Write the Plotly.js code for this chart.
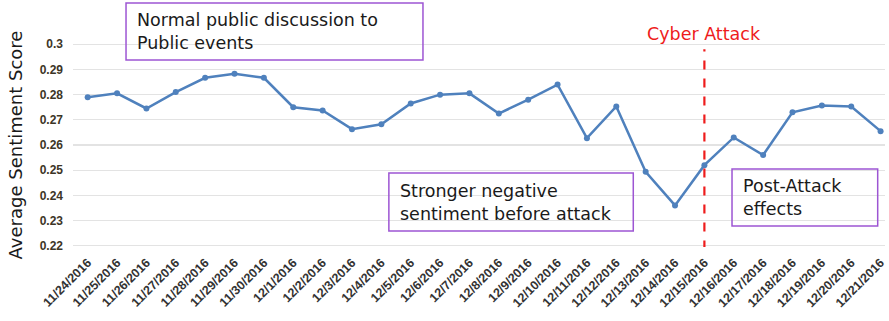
<!DOCTYPE html>
<html>
<head>
<meta charset="utf-8">
<script src="https://cdn.plot.ly/plotly-3.0.1.min.js"></script>
<style>html,body{margin:0;padding:0;background:#fff;}#chart{width:889px;height:321px;}</style>
</head>
<body>
<div id="chart"></div>
<script>
const dates = ['11/24/2016','11/25/2016','11/26/2016','11/27/2016','11/28/2016','11/29/2016','11/30/2016',
  '12/1/2016','12/2/2016','12/3/2016','12/4/2016','12/5/2016','12/6/2016','12/7/2016','12/8/2016',
  '12/9/2016','12/10/2016','12/11/2016','12/12/2016','12/13/2016','12/14/2016','12/15/2016','12/16/2016',
  '12/17/2016','12/18/2016','12/19/2016','12/20/2016','12/21/2016'];
const scores = [0.279,0.2805,0.2745,0.281,0.2867,0.2883,0.2867,
  0.275,0.2737,0.2663,0.2682,0.2765,0.280,0.2805,0.2725,
  0.278,0.284,0.2627,0.2753,0.2494,0.236,0.252,0.263,
  0.256,0.273,0.2757,0.2753,0.2655];
const yTicks = [0.22,0.23,0.24,0.25,0.26,0.27,0.28,0.29,0.3];
const yTickText = ['0.22','0.23','0.24','0.25','0.26','0.27','0.28','0.29','0.3'];
const attackDate = '12/15/2016';
const attackLabel = 'Cyber Attack';
const boxTexts = ['Normal public discussion to<br>Public events',
  'Stronger negative<br>sentiment before attack',
  'Post-Attack<br>effects'];

const purple = '#9d55d3';
const annFont = {family: 'DejaVu Sans', size: 17.5, color: '#1a1a1a'};
const attackIdx = dates.indexOf(attackDate);

const trace = {
  x: dates, y: scores, type: 'scatter', mode: 'lines+markers',
  line: {color: '#4f81bd', width: 2.5},
  marker: {color: '#4f81bd', size: 6},
  hoverinfo: 'skip'
};

const boxes = [
  {x0: 0.0653, x1: 0.431, y0: 0.917, y1: 1.196},
  {x0: 0.389, x1: 0.690, y0: 0.078, y1: 0.363},
  {x0: 0.8116, x1: 0.991, y0: 0.103, y1: 0.382}
];

const shapes = boxes.map(b => ({
  type: 'rect', xref: 'paper', yref: 'paper', x0: b.x0, x1: b.x1, y0: b.y0, y1: b.y1,
  line: {color: purple, width: 1.5}, fillcolor: 'rgba(255,255,255,0)', layer: 'above'
}));
shapes.push({
  type: 'line', xref: 'x', yref: 'y', x0: attackIdx, x1: attackIdx, y0: 0.2185, y1: 0.298,
  line: {color: '#ee1c1c', width: 2.2, dash: 'dash'}
});

const annotations = boxes.map((b, i) => ({
  xref: 'paper', yref: 'paper', x: b.x0 + 0.011, y: (b.y0 + b.y1) / 2,
  xanchor: 'left', yanchor: 'middle', align: 'left', showarrow: false,
  text: boxTexts[i], font: annFont
}));
annotations.push({
  xref: 'x', yref: 'paper', x: attackIdx, y: 1.045, xanchor: 'center', yanchor: 'middle',
  showarrow: false, text: attackLabel,
  font: {family: 'DejaVu Sans', size: 17.5, color: '#ee1c1c'}
});

const layout = {
  width: 889, height: 321,
  margin: {l: 73, r: 4, t: 43, b: 74, pad: 0},
  paper_bgcolor: '#fff', plot_bgcolor: '#fff',
  showlegend: false,
  xaxis: {
    type: 'category', range: [-0.5, 27.15],
    showgrid: false, zeroline: false, showline: false, ticks: '',
    tickangle: -45, ticklabelstandoff: 5,
    tickfont: {family: 'Liberation Sans', size: 12.5, color: '#333', weight: 'bold'}
  },
  yaxis: {
    range: [0.2195, 0.3005], tickvals: yTicks, ticktext: yTickText,
    showgrid: true, gridcolor: '#e3e3e3', gridwidth: 1.3,
    zeroline: false, showline: false, ticks: '',
    ticklabelstandoff: 9,
    tickfont: {family: 'Liberation Sans', size: 12, color: '#3d3526', weight: 'bold'},
    title: {text: 'Average Sentiment Score', font: {family: 'DejaVu Sans', size: 18, color: '#1a1a1a'}, standoff: 12}
  },
  shapes: shapes,
  annotations: annotations
};

Plotly.newPlot('chart', [trace], layout, {displayModeBar: false, staticPlot: true});
</script>
</body>
</html>
